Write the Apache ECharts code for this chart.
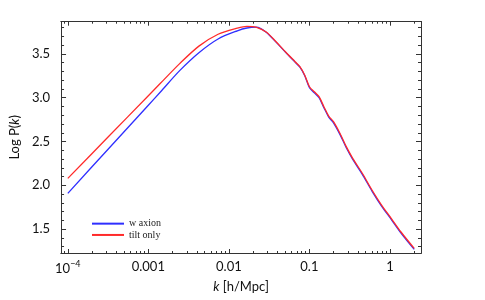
<!DOCTYPE html>
<html><head><meta charset="utf-8">
<script src="https://cdn.jsdelivr.net/npm/echarts@6/dist/echarts.min.js"></script>
<style>html,body{margin:0;padding:0;background:#fff}#c{width:485px;height:300px}</style>
</head><body><div id="c"></div>
<script>
// log10(k) sample positions
const logK = [-4.0,-3.5,-3.0,-2.85,-2.611,-2.372,-2.134,-1.895,-1.776,-1.656,-1.537,-1.417,-1.298,-1.178,-1.118,-1.059,-0.999,-0.939,-0.880,-0.820,-0.760,-0.701,-0.621,-0.542,-0.462,-0.343,-0.223,-0.104,0.016,0.135,0.302];
const tiltOnly = [2.079,2.551,3.023,3.165,3.39,3.59,3.726,3.795,3.815,3.805,3.752,3.643,3.526,3.412,3.355,3.26,3.126,3.069,3.012,2.898,2.791,2.726,2.594,2.441,2.308,2.137,1.946,1.774,1.622,1.469,1.279];
const wAxion = [1.908,2.412,2.915,3.066,3.31,3.515,3.672,3.765,3.797,3.806,3.748,3.638,3.521,3.407,3.35,3.255,3.114,3.057,3.0,2.886,2.779,2.714,2.582,2.429,2.296,2.125,1.934,1.762,1.61,1.457,1.267];
const xMajor = [-4,-3,-2,-1,0];
const xMajorLabels = ['10^-4','0.001','0.01','0.1','1'];
const yMajor = [1.5,2.0,2.5,3.0,3.5];
const seriesNames = ['w axion','tilt only'];

const xMinor = [];
for (let d = -5; d <= 0; d++) for (let m = 2; m <= 9; m++) xMinor.push(d + Math.log10(m));
const yMinor = [];
for (let v = 13; v <= 38; v++) yMinor.push(v / 10);

const X0 = -4.084, X1 = 0.386, Y0 = 1.226, Y1 = 3.869;
const axCol = '#333';
const fontFam = 'Lato';
const fs = 13;

function xAx(pos, vals, len, labels) {
  return {
    type: 'value', position: pos, min: X0, max: X1,
    axisLine: {show: true, onZero: false, lineStyle: {color: axCol, width: 1}},
    axisTick: {show: true, inside: true, length: len, customValues: vals, lineStyle: {color: axCol}},
    axisLabel: labels ? {
      show: true, customValues: xMajor, margin: 7, color: '#111', fontFamily: fontFam, fontSize: fs,
      formatter: function (v) {
        const i = xMajor.findIndex(t => Math.abs(t - v) < 1e-6);
        const s = i >= 0 ? xMajorLabels[i] : '';
        if (s.indexOf('^') >= 0) { const p = s.split('^'); return '{b|' + p[0] + '}{s|' + p[1].replace('-', '\u2212') + '}'; }
        return s;
      },
      rich: {b: {fontSize: fs, fontFamily: fontFam, color: '#111', verticalAlign: 'bottom', lineHeight: 15},
             s: {fontSize: 9, fontFamily: fontFam, color: '#111', verticalAlign: 'top', lineHeight: 15, padding: [0,0,6,0]}}
    } : {show: false},
    splitLine: {show: false}
  };
}
function yAx(pos, vals, len, labels) {
  return {
    type: 'value', position: pos, min: Y0, max: Y1,
    axisLine: {show: true, onZero: false, lineStyle: {color: axCol, width: 1}},
    axisTick: {show: true, inside: true, length: len, customValues: vals, lineStyle: {color: axCol}},
    axisLabel: labels ? {show: true, customValues: yMajor, margin: 11, color: '#111', fontFamily: fontFam, fontSize: fs,
      formatter: v => v.toFixed(1)} : {show: false},
    splitLine: {show: false}
  };
}

const xAxes = [xAx('bottom', xMajor, 4, true), xAx('bottom', xMinor, 2, false), xAx('top', xMajor, 4, false), xAx('top', xMinor, 2, false)];
xAxes[0].name = '{i|k} [h/Mpc]';
xAxes[0].nameLocation = 'middle';
xAxes[0].nameGap = 24;
xAxes[0].nameTextStyle = {fontFamily: fontFam, fontSize: fs, color: '#111',
  rich: {i: {fontStyle: 'italic', fontFamily: fontFam, fontSize: fs, color: '#111'}}};
const yAxes = [yAx('left', yMajor, 5, true), yAx('left', yMinor, 3, false), yAx('right', yMajor, 5, false), yAx('right', yMinor, 3, false)];
yAxes[0].name = 'Log P({i|k})';
yAxes[0].nameLocation = 'middle';
yAxes[0].nameGap = 27;
yAxes[0].nameTextStyle = {fontFamily: fontFam, fontSize: fs, color: '#111',
  rich: {i: {fontStyle: 'italic', fontFamily: fontFam, fontSize: fs, color: '#111'}}};

const chart = echarts.init(document.getElementById('c'), null, {renderer: 'canvas'});
chart.setOption({
  animation: false,
  grid: {left: 46.7, top: 21.7, right: 64, bottom: 47, containLabel: false},
  xAxis: xAxes,
  yAxis: yAxes,
  legend: {
    orient: 'vertical', left: 87, top: 213, itemWidth: 32, itemHeight: 2, itemGap: 0,
    icon: 'rect', data: seriesNames,
    textStyle: {fontFamily: 'Liberation Serif', fontSize: 10, color: '#222', lineHeight: 11.3}
  },
  series: [
    {name: seriesNames[0], type: 'line', data: logK.map((x, i) => [x, wAxion[i]]), showSymbol: false, smooth: 0.3,
     lineStyle: {color: '#2f2fff', width: 1.3}, itemStyle: {color: '#2f2fff'}},
    {name: seriesNames[1], type: 'line', data: logK.map((x, i) => [x, tiltOnly[i]]), showSymbol: false, smooth: 0.3,
     lineStyle: {color: '#ff2a2a', width: 1.3}, itemStyle: {color: '#ff2a2a'}}
  ]
});
</script></body></html>
